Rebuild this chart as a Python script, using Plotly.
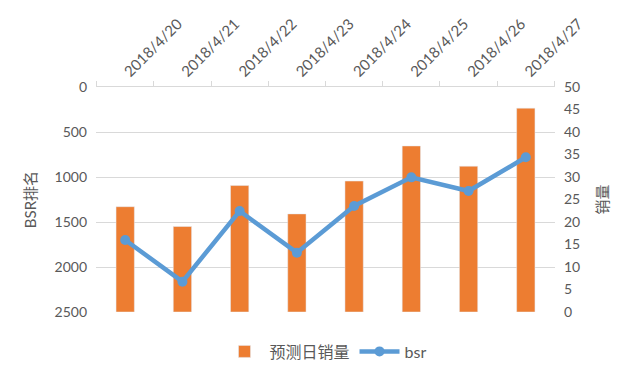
import plotly.graph_objects as go

dates = ["2018/4/20", "2018/4/21", "2018/4/22", "2018/4/23",
         "2018/4/24", "2018/4/25", "2018/4/26", "2018/4/27"]
sales = [23.4, 19.0, 28.1, 21.8, 29.1, 36.9, 32.4, 45.3]
bsr = [1700, 2163, 1378, 1841, 1322, 1004, 1156, 781]

font_family = "Lato, 'Noto Sans CJK SC', sans-serif"
gray = "#595959"

fig = go.Figure()
fig.add_trace(go.Bar(
    x=dates, y=sales, name="预测日销量", marker_color="#ED7D31",
    width=0.32, yaxis="y",
))
fig.add_trace(go.Scatter(
    x=dates, y=bsr, name="bsr", mode="lines+markers",
    line=dict(color="#5B9BD5", width=4.5),
    marker=dict(color="#5B9BD5", size=10),
    yaxis="y2",
))

fig.update_layout(
    width=640, height=376,
    margin=dict(l=96, r=85, t=87, b=64, autoexpand=False),
    paper_bgcolor="white", plot_bgcolor="white",
    font=dict(family=font_family, size=14, color=gray),
    showlegend=True,
    legend=dict(orientation="h", x=0.5, xanchor="center", y=-0.1, yanchor="top",
                font=dict(size=16, color=gray), traceorder="normal",
                itemwidth=40),
    xaxis=dict(
        side="top", type="category", tickangle=-45, automargin=False,
        showline=True, linecolor="#D9D9D9", linewidth=1,
        ticks="outside", ticklen=5, tickcolor="#D9D9D9",
        tickson="boundaries", showgrid=False,
        tickfont=dict(size=15, color=gray),
    ),
    yaxis=dict(
        side="right", range=[0, 50], dtick=5, automargin=False,
        showgrid=False, zeroline=False, showline=False,
        title=dict(text="销量", font=dict(size=15, color=gray), standoff=18),
        tickfont=dict(size=14, color=gray), ticklabelstandoff=8,
    ),
    yaxis2=dict(
        side="left", overlaying="y", range=[2500, 0], dtick=500, automargin=False,
        showgrid=True, gridcolor="#D9D9D9", gridwidth=1, zeroline=False,
        title=dict(text="BSR排名", font=dict(size=15, color=gray), standoff=14),
        tickfont=dict(size=14, color=gray), ticklabelstandoff=8,
    ),
)

fig.write_html("out.html", config={"responsive": False, "displayModeBar": False})

with open("out.html", "r", encoding="utf-8") as f:
    html = f.read()
html = html.replace("<head>", "<head><style>html,body{margin:0;padding:0;overflow:hidden;}</style>", 1)
with open("out.html", "w", encoding="utf-8") as f:
    f.write(html)
